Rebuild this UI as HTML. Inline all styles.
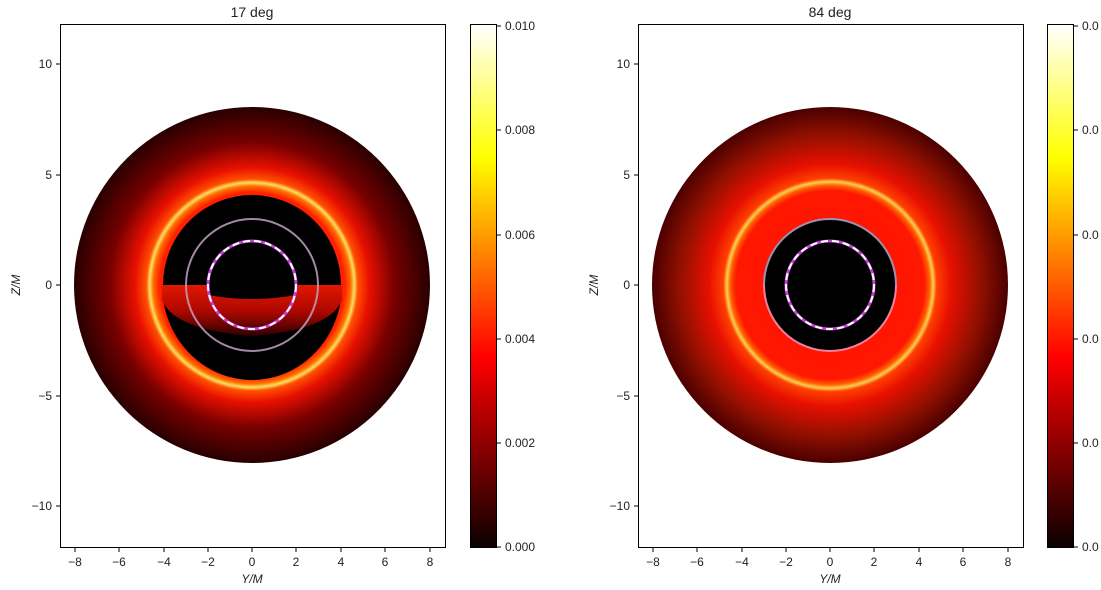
<!DOCTYPE html>
<html><head><style>body{margin:0;background:#fff}svg{display:block}text{font-family:"Liberation Sans","DejaVu Sans",sans-serif;font-size:12px;fill:#222}</style></head><body>
<svg width="1101" height="590" viewBox="0 0 1101 590">
<defs>
<linearGradient id="hot" x1="0" y1="1" x2="0" y2="0">
<stop offset="0" stop-color="#0a0000"/><stop offset="0.365" stop-color="#ff0000"/><stop offset="0.746" stop-color="#ffff00"/><stop offset="1" stop-color="#ffffff"/></linearGradient>
<radialGradient id="gl" gradientUnits="userSpaceOnUse" cx="252" cy="285" r="178">
<stop offset="0" stop-color="#e01000"/><stop offset="0.52" stop-color="#ff2000"/><stop offset="0.555" stop-color="#ff7000"/><stop offset="0.575" stop-color="#ffe060"/><stop offset="0.595" stop-color="#ff5000"/><stop offset="0.66" stop-color="#e81000"/><stop offset="0.8" stop-color="#780000"/><stop offset="1" stop-color="#280000"/></radialGradient>
<radialGradient id="gr" gradientUnits="userSpaceOnUse" cx="830" cy="285" r="178">
<stop offset="0" stop-color="#ff1000"/><stop offset="0.53" stop-color="#ff1800"/><stop offset="0.56" stop-color="#ff6000"/><stop offset="0.58" stop-color="#ffd050"/><stop offset="0.60" stop-color="#ff4000"/><stop offset="0.68" stop-color="#e81000"/><stop offset="0.85" stop-color="#901000"/><stop offset="1" stop-color="#4a0000"/></radialGradient>
<linearGradient id="band" x1="0" y1="0" x2="0" y2="1"><stop offset="0" stop-color="#e01800"/><stop offset="0.5" stop-color="#b00800"/><stop offset="1" stop-color="#300000"/></linearGradient>
</defs>
<!-- left -->
<rect x="60.5" y="24.5" width="385" height="523" fill="#fff" stroke="#000"/>
<circle cx="252" cy="285" r="178" fill="url(#gl)"/>
<path d="M163 285 A89 90 0 0 1 341 285 Z" fill="#000"/>
<path d="M162 285 A90 95 0 0 0 342 285 Z" fill="#000"/>
<path d="M162 285 L342 285 L342 300 Q330 330 252 336 Q174 330 162 300 Z" fill="url(#band)"/>
<path d="M208 285 A44 44 0 0 1 296 285 L296 295 Q252 303 208 295 Z" fill="#000"/>
<circle cx="252" cy="285" r="66" fill="none" stroke="#c0a0c0" stroke-width="2" opacity="0.85"/>
<circle cx="252" cy="285" r="44" fill="none" stroke="#c040d0" stroke-width="3"/>
<circle cx="252" cy="285" r="44" fill="none" stroke="#fff" stroke-width="2" stroke-dasharray="7 4"/>
<text x="252" y="17" text-anchor="middle" style="font-size:14px">17 deg</text>
<!-- right -->
<rect x="638.5" y="24.5" width="385" height="523" fill="#fff" stroke="#000"/>
<circle cx="830" cy="285" r="178" fill="url(#gr)"/>
<circle cx="830" cy="285" r="66" fill="#000"/>
<path d="M764 285 A66 66 0 0 1 896 285" fill="none" stroke="#a090b0" stroke-width="2"/>
<path d="M764 285 A66 66 0 0 0 896 285" fill="none" stroke="#f080a0" stroke-width="2"/>
<circle cx="830" cy="285" r="44" fill="none" stroke="#c040d0" stroke-width="3"/>
<circle cx="830" cy="285" r="44" fill="none" stroke="#fff" stroke-width="2" stroke-dasharray="7 4"/>
<text x="830" y="17" text-anchor="middle" style="font-size:14px">84 deg</text>
<!-- ticks -->
<g stroke="#000">
<line x1="56" x2="60" y1="64" y2="64"/><line x1="56" x2="60" y1="175" y2="175"/><line x1="56" x2="60" y1="285" y2="285"/><line x1="56" x2="60" y1="396" y2="396"/><line x1="56" x2="60" y1="506" y2="506"/>
<line x1="634" x2="638" y1="64" y2="64"/><line x1="634" x2="638" y1="175" y2="175"/><line x1="634" x2="638" y1="285" y2="285"/><line x1="634" x2="638" y1="396" y2="396"/><line x1="634" x2="638" y1="506" y2="506"/>
</g>
<g text-anchor="end">
<text x="52" y="68">10</text><text x="52" y="179">5</text><text x="52" y="289">0</text><text x="52" y="400">−5</text><text x="52" y="510">−10</text>
<text x="630" y="68">10</text><text x="630" y="179">5</text><text x="630" y="289">0</text><text x="630" y="400">−5</text><text x="630" y="510">−10</text>
</g>
<g stroke="#000">
<line x1="75" x2="75" y1="548" y2="552"/><line x1="119" x2="119" y1="548" y2="552"/><line x1="164" x2="164" y1="548" y2="552"/><line x1="208" x2="208" y1="548" y2="552"/><line x1="252" x2="252" y1="548" y2="552"/><line x1="296" x2="296" y1="548" y2="552"/><line x1="341" x2="341" y1="548" y2="552"/><line x1="385" x2="385" y1="548" y2="552"/><line x1="430" x2="430" y1="548" y2="552"/>
<line x1="653" x2="653" y1="548" y2="552"/><line x1="697" x2="697" y1="548" y2="552"/><line x1="742" x2="742" y1="548" y2="552"/><line x1="786" x2="786" y1="548" y2="552"/><line x1="830" x2="830" y1="548" y2="552"/><line x1="874" x2="874" y1="548" y2="552"/><line x1="919" x2="919" y1="548" y2="552"/><line x1="963" x2="963" y1="548" y2="552"/><line x1="1008" x2="1008" y1="548" y2="552"/>
</g>
<g text-anchor="middle">
<text x="75" y="566">−8</text><text x="119" y="566">−6</text><text x="164" y="566">−4</text><text x="208" y="566">−2</text><text x="252" y="566">0</text><text x="296" y="566">2</text><text x="341" y="566">4</text><text x="385" y="566">6</text><text x="430" y="566">8</text>
<text x="653" y="566">−8</text><text x="697" y="566">−6</text><text x="742" y="566">−4</text><text x="786" y="566">−2</text><text x="830" y="566">0</text><text x="874" y="566">2</text><text x="919" y="566">4</text><text x="963" y="566">6</text><text x="1008" y="566">8</text>
<text x="252" y="583" font-style="italic">Y/M</text><text x="830" y="583" font-style="italic">Y/M</text>
</g>
<text transform="translate(20,285) rotate(-90)" text-anchor="middle" font-style="italic">Z/M</text>
<text transform="translate(598,285) rotate(-90)" text-anchor="middle" font-style="italic">Z/M</text>
<!-- colorbars -->
<rect x="470.5" y="24.5" width="26" height="523" fill="url(#hot)" stroke="#000"/>
<rect x="1047.5" y="24.5" width="26" height="523" fill="url(#hot)" stroke="#000"/>
<g stroke="#000">
<line x1="497" x2="501" y1="26" y2="26"/><line x1="497" x2="501" y1="130" y2="130"/><line x1="497" x2="501" y1="235" y2="235"/><line x1="497" x2="501" y1="339" y2="339"/><line x1="497" x2="501" y1="443" y2="443"/><line x1="497" x2="501" y1="547" y2="547"/>
<line x1="1074" x2="1078" y1="26" y2="26"/><line x1="1074" x2="1078" y1="130" y2="130"/><line x1="1074" x2="1078" y1="235" y2="235"/><line x1="1074" x2="1078" y1="339" y2="339"/><line x1="1074" x2="1078" y1="443" y2="443"/><line x1="1074" x2="1078" y1="547" y2="547"/>
</g>
<g>
<text x="505" y="30">0.010</text><text x="505" y="134">0.008</text><text x="505" y="239">0.006</text><text x="505" y="343">0.004</text><text x="505" y="447">0.002</text><text x="505" y="551">0.000</text>
<text x="1082" y="30">0.0</text><text x="1082" y="134">0.0</text><text x="1082" y="239">0.0</text><text x="1082" y="343">0.0</text><text x="1082" y="447">0.0</text><text x="1082" y="551">0.0</text>
</g>
</svg>
</body></html>
